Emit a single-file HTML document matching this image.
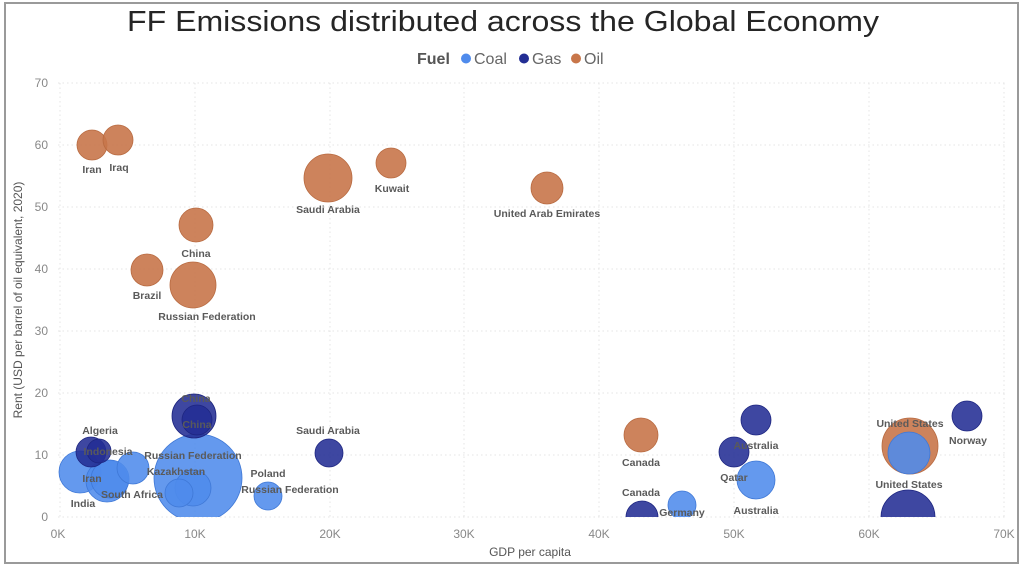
<!DOCTYPE html>
<html><head><meta charset="utf-8"><style>
html,body{margin:0;padding:0;background:#fff;}
svg{display:block;font-family:"Liberation Sans",sans-serif;}
.l{font-size:10.5px;font-weight:bold;fill:#5a5a5a;}
.t{font-size:12px;fill:#888;}
.o{fill:#c8764a;fill-opacity:.9;stroke:#b86a40;stroke-width:.8}
.g{fill:#232e94;fill-opacity:.88;stroke:#1d2580;stroke-width:.8}
.c{fill:#4f8bec;fill-opacity:.88;stroke:#3f78d6;stroke-width:.8}
</style></head><body>
<svg width="1024" height="570" viewBox="0 0 1024 570">
<rect x="5" y="3" width="1013" height="560" fill="#fff" stroke="#9a9a9a" stroke-width="2"/>
<text x="127" y="31" textLength="752" lengthAdjust="spacingAndGlyphs" font-size="29" fill="#252525">FF Emissions distributed across the Global Economy</text>
<text x="417" y="64" font-size="16" font-weight="bold" fill="#555">Fuel</text>
<circle cx="466" cy="58.5" r="5" fill="#4f8bec"/><text x="474" y="64" font-size="16" fill="#666">Coal</text>
<circle cx="524" cy="58.5" r="5" fill="#232e94"/><text x="532" y="64" font-size="16" fill="#666">Gas</text>
<circle cx="576" cy="58.5" r="5" fill="#c8764a"/><text x="584" y="64" font-size="16" fill="#666">Oil</text>
<g stroke="#e4e4e4" stroke-dasharray="1.5,3" stroke-width="1">
<line x1="58" y1="83" x2="1005" y2="83"/><line x1="58" y1="145" x2="1005" y2="145"/><line x1="58" y1="207" x2="1005" y2="207"/><line x1="58" y1="269" x2="1005" y2="269"/><line x1="58" y1="331" x2="1005" y2="331"/><line x1="58" y1="393" x2="1005" y2="393"/><line x1="58" y1="455" x2="1005" y2="455"/><line x1="58" y1="517" x2="1005" y2="517"/>
<line x1="60" y1="83" x2="60" y2="517"/><line x1="195" y1="83" x2="195" y2="517"/><line x1="330" y1="83" x2="330" y2="517"/><line x1="464" y1="83" x2="464" y2="517"/><line x1="599" y1="83" x2="599" y2="517"/><line x1="734" y1="83" x2="734" y2="517"/><line x1="869" y1="83" x2="869" y2="517"/><line x1="1004" y1="83" x2="1004" y2="517"/>
</g>
<g class="t" text-anchor="end">
<text x="48" y="87">70</text><text x="48" y="149">60</text><text x="48" y="211">50</text><text x="48" y="273">40</text><text x="48" y="335">30</text><text x="48" y="397">20</text><text x="48" y="459">10</text><text x="48" y="521">0</text>
</g>
<g class="t" text-anchor="middle">
<text x="58" y="538">0K</text><text x="195" y="538">10K</text><text x="330" y="538">20K</text><text x="464" y="538">30K</text><text x="599" y="538">40K</text><text x="734" y="538">50K</text><text x="869" y="538">60K</text><text x="1004" y="538">70K</text>
</g>
<text x="530" y="556" text-anchor="middle" font-size="12" fill="#555">GDP per capita</text>
<text transform="translate(22,300) rotate(-90)" text-anchor="middle" font-size="12" fill="#555">Rent (USD per barrel of oil equivalent, 2020)</text>
<defs><clipPath id="cp"><rect x="0" y="0" width="1024" height="517"/></clipPath></defs>
<g clip-path="url(#cp)">
<circle class="o" cx="92" cy="145" r="15"/><circle class="o" cx="118" cy="140" r="15"/>
<circle class="o" cx="328" cy="178" r="24"/><circle class="o" cx="391" cy="163" r="15"/>
<circle class="o" cx="547" cy="188" r="16"/><circle class="o" cx="196" cy="225" r="17"/>
<circle class="o" cx="147" cy="270" r="16"/><circle class="o" cx="193" cy="285" r="23"/>
<circle class="o" cx="641" cy="435" r="17"/><circle class="o" cx="910" cy="446" r="28"/>
<circle class="c" cx="80" cy="472" r="21"/><circle class="c" cx="107" cy="481" r="21"/>
<circle class="c" cx="110" cy="479" r="19"/><circle class="c" cx="133" cy="468" r="16"/>
<circle class="c" cx="198" cy="478" r="44"/><circle class="c" cx="193" cy="488" r="18"/>
<circle class="c" cx="179" cy="493" r="14"/><circle class="c" cx="268" cy="496" r="14"/>
<circle class="c" cx="682" cy="505" r="14"/><circle class="c" cx="756" cy="480" r="19"/>
<circle class="c" cx="909" cy="453" r="21"/>
<circle class="g" cx="91" cy="452" r="15"/><circle class="g" cx="99" cy="451" r="12"/>
<circle class="g" cx="194" cy="416" r="22"/><circle class="g" cx="197" cy="420" r="15"/>
<circle class="g" cx="329" cy="453" r="14"/><circle class="g" cx="642" cy="517" r="16"/>
<circle class="g" cx="756" cy="420" r="15"/><circle class="g" cx="734" cy="452" r="15"/>
<circle class="g" cx="967" cy="416" r="15"/><circle class="g" cx="908" cy="517" r="27"/>
</g>
<g class="l" text-anchor="middle">
<text x="92" y="173">Iran</text><text x="119" y="171">Iraq</text>
<text x="328" y="213">Saudi Arabia</text><text x="392" y="192">Kuwait</text>
<text x="547" y="217">United Arab Emirates</text><text x="196" y="257">China</text>
<text x="147" y="299">Brazil</text><text x="207" y="320">Russian Federation</text>
<text x="641" y="466">Canada</text><text x="910" y="427">United States</text>
<text x="968" y="444">Norway</text><text x="909" y="488">United States</text>
<text x="756" y="449">Australia</text><text x="734" y="481">Qatar</text>
<text x="756" y="514">Australia</text><text x="641" y="496">Canada</text>
<text x="682" y="516">Germany</text>
<text x="328" y="434">Saudi Arabia</text>
<text x="268" y="477">Poland</text><text x="290" y="493">Russian Federation</text>
<text x="196" y="402">China</text><text x="197" y="428">China</text>
<text x="100" y="434">Algeria</text><text x="108" y="455">Indonesia</text>
<text x="193" y="459">Russian Federation</text><text x="176" y="475">Kazakhstan</text>
<text x="92" y="482">Iran</text><text x="132" y="498">South Africa</text>
<text x="83" y="507">India</text>
</g>
</svg>
</body></html>
